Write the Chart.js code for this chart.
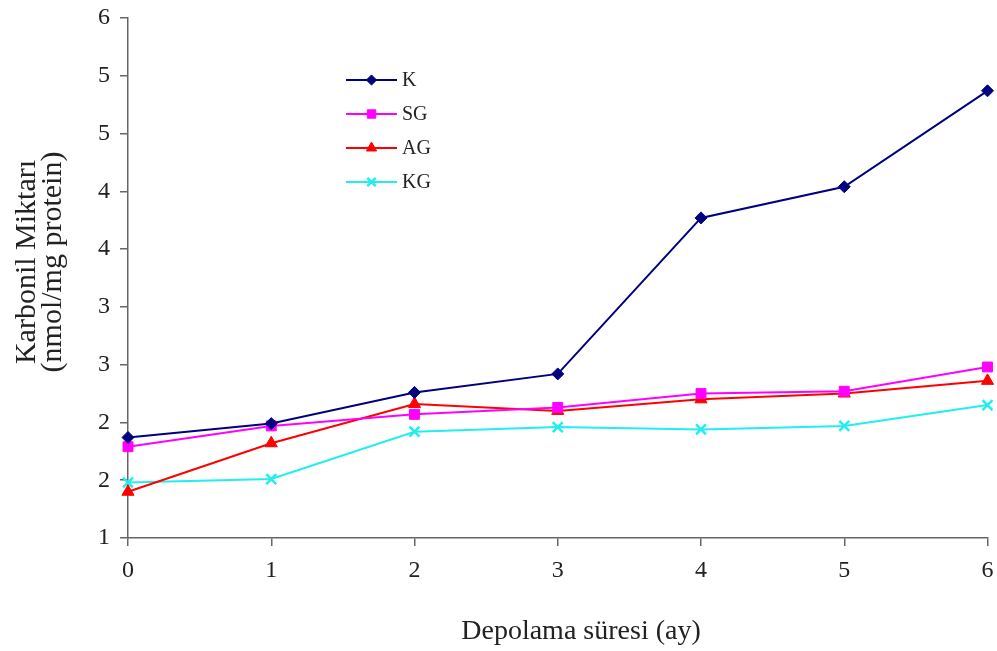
<!DOCTYPE html>
<html>
<head>
<meta charset="utf-8">
<script src="https://cdn.jsdelivr.net/npm/chart.js@4.4.1/dist/chart.umd.min.js"></script>
<style>
  html, body { margin: 0; padding: 0; background: #fff; }
  #wrap { width: 997px; height: 651px; }
</style>
</head>
<body>
<div id="wrap"><canvas id="chart" width="997" height="651"></canvas></div>
<script>
// storage time (months)
const months = [0, 1, 2, 3, 4, 5, 6];
const seriesNames = ['K', 'SG', 'AG', 'KG'];
const kValues  = [1.87, 1.99, 2.26, 2.42, 3.77, 4.04, 4.87];
const sgValues = [1.79, 1.97, 2.07, 2.13, 2.25, 2.27, 2.48];
const agValues = [1.40, 1.82, 2.16, 2.10, 2.20, 2.25, 2.36];
const kgValues = [1.48, 1.51, 1.92, 1.96, 1.94, 1.97, 2.15];
const yTicks = [1, 1.5, 2, 2.5, 3, 3.5, 4, 4.5, 5, 5.5];
const xTitle = 'Depolama süresi (ay)';
const yTitle = ['Karbonil Miktarı', '(nmol/mg protein)'];

const serif = "'Liberation Serif', 'Times New Roman', serif";
const textCol = '#222';
const axisCol = '#666';

function pts(vals) {
  return vals.map((v, i) => ({ x: months[i], y: v }));
}

function ds(label, vals, color, style, radius) {
  return {
    label: label,
    data: pts(vals),
    borderColor: color,
    backgroundColor: color,
    borderWidth: 2,
    pointStyle: style,
    pointRadius: radius,
    pointBorderWidth: style === 'crossRot' ? 2.5 : 1,
    pointBorderColor: color,
    tension: 0,
    clip: false
  };
}

// legend inside plot area, excel style (line with marker in middle)
// plus the axis titles, placed by hand like the original
const extras = {
  id: 'extras',
  afterDraw(chart) {
    const c = chart.ctx;
    const x0 = 346, x1 = 397, tx = 402;
    const rows = [80, 114, 148, 182];
    chart.data.datasets.forEach((d, i) => {
      const y = rows[i];
      c.save();
      c.strokeStyle = d.borderColor;
      c.lineWidth = 2;
      c.beginPath();
      c.moveTo(x0, y);
      c.lineTo(x1, y);
      c.stroke();
      c.fillStyle = d.backgroundColor;
      c.strokeStyle = d.borderColor;
      c.lineWidth = d.pointBorderWidth;
      Chart.helpers.drawPoint(c, {
        pointStyle: d.pointStyle,
        radius: d.pointRadius * 0.85,
        rotation: 0,
        borderWidth: d.pointBorderWidth
      }, (x0 + x1) / 2, y);
      c.fillStyle = textCol;
      c.font = '20px ' + serif;
      c.textBaseline = 'middle';
      c.fillText(d.label, tx, y + 1);
      c.restore();
    });

    c.save();
    c.fillStyle = textCol;
    c.textAlign = 'center';
    c.textBaseline = 'middle';
    c.font = '28px ' + serif;
    c.fillText(xTitle, 581, 632);
    c.translate(40, 262);
    c.rotate(-Math.PI / 2);
    c.font = '30px ' + serif;
    c.fillText(yTitle[0], 0, -13);
    c.fillText(yTitle[1], 0, 13);
    c.restore();
  }
};

new Chart(document.getElementById('chart'), {
  type: 'line',
  data: {
    datasets: [
      ds(seriesNames[0], kValues, '#000080', 'rectRot', 6),
      ds(seriesNames[1], sgValues, '#FF00FF', 'rect', 7),
      ds(seriesNames[2], agValues, '#FF0000', 'triangle', 7),
      ds(seriesNames[3], kgValues, '#22EEEE', 'crossRot', 7)
    ]
  },
  options: {
    responsive: false,
    animation: false,
    layout: { padding: { top: 18, right: 9, left: 0, bottom: 0 } },
    plugins: {
      legend: { display: false },
      tooltip: { enabled: false }
    },
    scales: {
      x: {
        type: 'linear',
        min: 0,
        max: 6,
        afterBuildTicks(scale) {
          scale.ticks = months.map(v => ({ value: v }));
        },
        afterFit(scale) {
          scale.height = 113;
          scale.paddingLeft = 0;
          scale.paddingRight = 0;
        },
        grid: {
          display: true,
          drawOnChartArea: false,
          drawTicks: true,
          tickLength: 8,
          color: axisCol,
          lineWidth: 1.5
        },
        border: { display: true, color: axisCol, width: 1.5 },
        ticks: {
          color: textCol,
          font: { family: serif, size: 24 },
          padding: 10,
          maxRotation: 0
        }
      },
      y: {
        min: 1,
        max: 5.5,
        afterBuildTicks(scale) {
          scale.ticks = yTicks.map(v => ({ value: v }));
        },
        afterFit(scale) {
          scale.width = 128;
          scale.paddingTop = 0;
          scale.paddingBottom = 0;
        },
        grid: {
          display: true,
          drawOnChartArea: false,
          drawTicks: true,
          tickLength: 8,
          color: axisCol,
          lineWidth: 1.5
        },
        border: { display: true, color: axisCol, width: 1.5 },
        ticks: {
          color: textCol,
          font: { family: serif, size: 24 },
          padding: 10,
          // excel rounding to whole numbers
          callback: v => String(Math.floor(v + 0.5))
        }
      }
    }
  },
  plugins: [extras]
});
</script>
</body>
</html>
